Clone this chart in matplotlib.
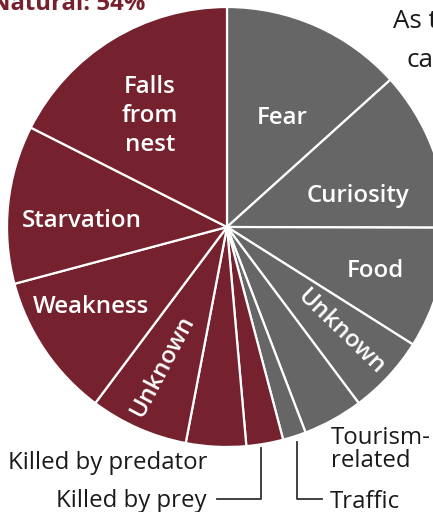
import matplotlib
matplotlib.use("Agg")
import matplotlib.pyplot as plt

plt.rcParams['font.family'] = ['Open Sans', 'DejaVu Sans']

# Data (percent of deaths), clockwise from 12 o'clock
categories = ["Fear", "Curiosity", "Food", "Unknown", "Tourism-related", "Traffic",
              "Killed by prey", "Killed by predator", "Unknown", "Weakness",
              "Starvation", "Falls from nest"]
groups = ["Human", "Human", "Human", "Human", "Human", "Human",
          "Natural", "Natural", "Natural", "Natural", "Natural", "Natural"]
values = [13.3, 11.7, 8.9, 5.8, 4.4, 1.7,
          2.7, 4.4, 7.2, 10.6, 11.6, 17.5]
natural_share = 54

RED = "#76222e"
GRAY = "#666666"
colors = [GRAY if g == "Human" else RED for g in groups]

W, H = 433, 512
fig = plt.figure(figsize=(W / 100, H / 100), dpi=100)
ax = fig.add_axes([0, 0, 1, 1])

cx, cy, R = 227, H - 227, 220
ax.pie(values, colors=colors, startangle=90, counterclock=False,
       center=(cx, cy), radius=R, frame=True,
       wedgeprops=dict(edgecolor="white", linewidth=1.6))
ax.set_xlim(0, W)
ax.set_ylim(0, H)
ax.set_aspect("equal")
ax.axis("off")

px = 72 / 100
fs = 24 * px
inside = dict(color="white", fontsize=fs, fontweight=600, ha="center", va="center")

def Y(y):
    return H - y

d = 3
ax.text(150, Y(113 + d), "Falls\nfrom\nnest", linespacing=1.28, **inside)
ax.text(282, Y(115 + d), "Fear", **inside)
ax.text(358, Y(193 + d), "Curiosity", **inside)
ax.text(375, Y(268 + d), "Food", **inside)
ax.text(341, Y(331 + 1), "Unknown", rotation=-44, rotation_mode="anchor", **inside)
ax.text(82, Y(218 + d), "Starvation", **inside)
ax.text(91, Y(304 + d), "Weakness", **inside)
ax.text(163, Y(366), "Unknown", rotation=62, rotation_mode="anchor", **inside)

outside = dict(color="#1a1a1a", fontsize=fs, fontweight="normal")
ax.text(207, Y(469), "Killed by predator", ha="right", va="baseline", **outside)
ax.text(207, Y(507), "Killed by prey", ha="right", va="baseline", **outside)
ax.text(330, Y(508), "Traffic", ha="left", va="baseline", **outside)
ax.text(331, Y(467), "Tourism-\nrelated", ha="left", va="baseline",
        linespacing=0.95, **outside)

lc = "#333333"
ax.plot([261, 261, 217], [Y(448), Y(499), Y(499)], color=lc, lw=1.3)
ax.plot([297, 297, 322], [Y(442), Y(499), Y(499)], color=lc, lw=1.3)

ax.text(145, Y(10), f"Natural: {natural_share}%", color=RED, fontsize=fs,
        fontweight="bold", ha="right", va="baseline")

ax.text(393, Y(28), "As the", color="#1a1a1a", fontsize=26 * px, ha="left", va="baseline")
ax.text(407, Y(67), "ca", color="#1a1a1a", fontsize=26 * px, ha="left", va="baseline")

fig.savefig("out.png", dpi=100)
